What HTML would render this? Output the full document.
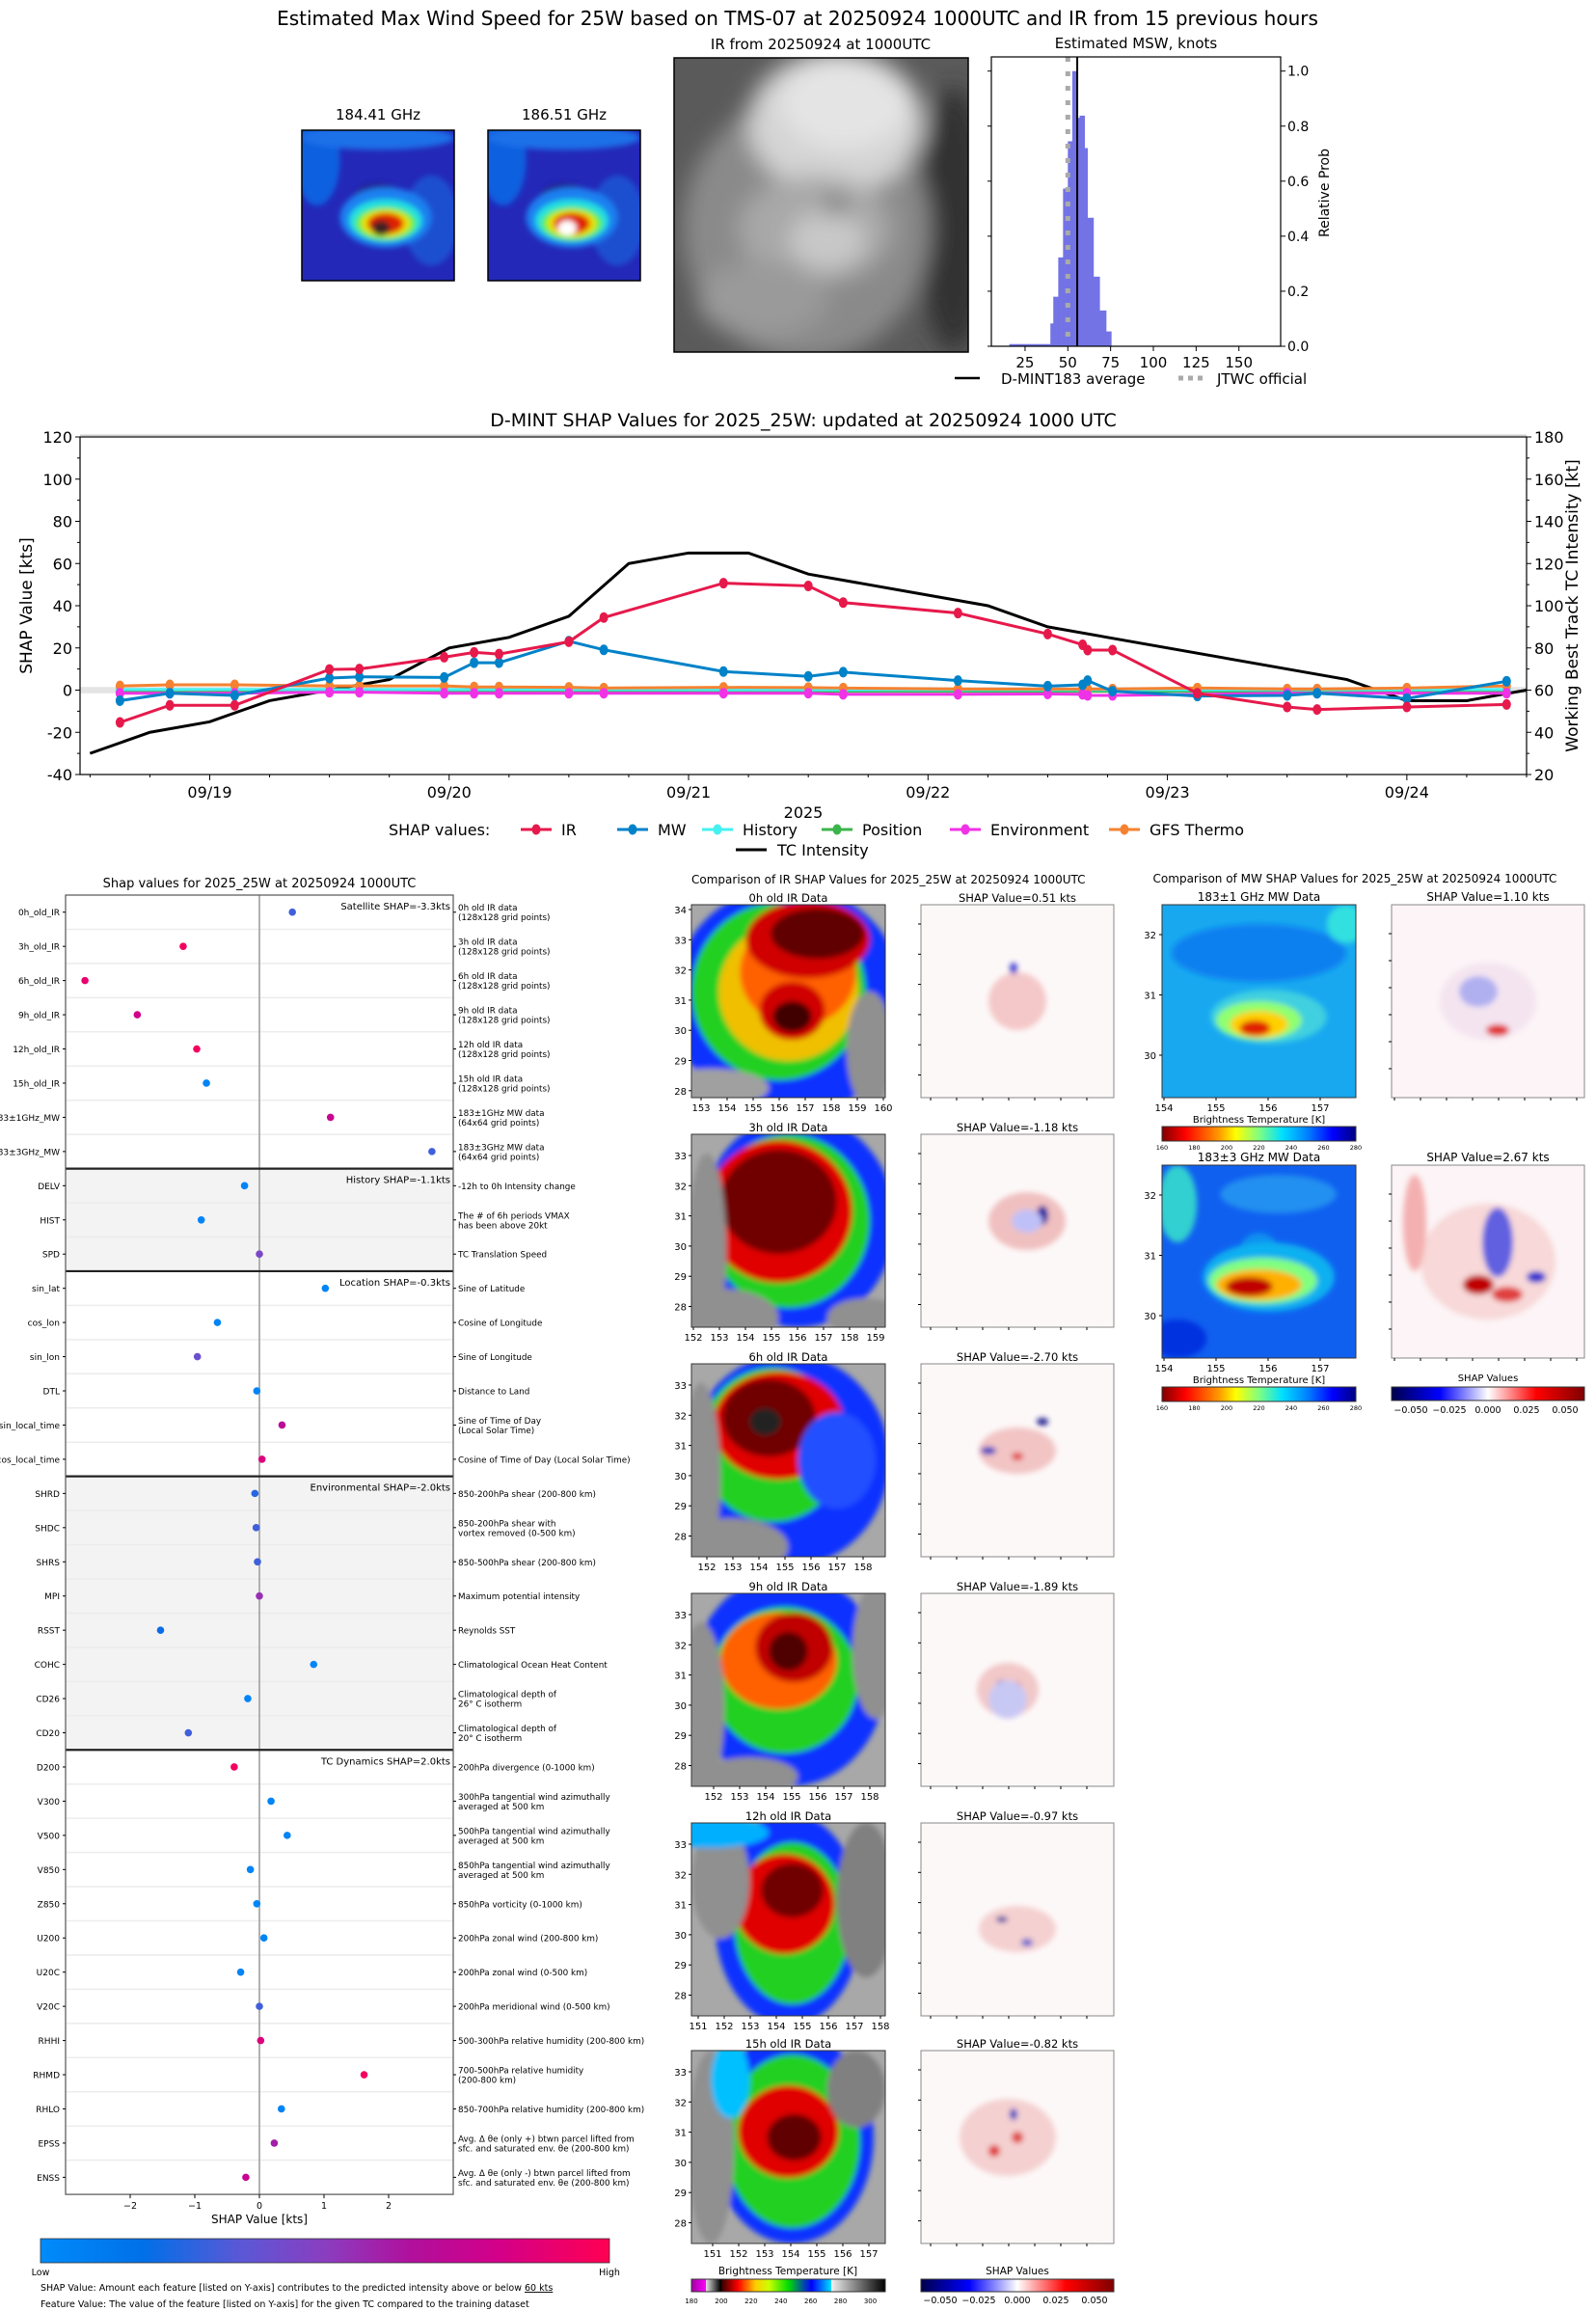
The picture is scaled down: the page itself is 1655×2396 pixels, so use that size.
<!DOCTYPE html>
<html><head><meta charset="utf-8"><title>D-MINT 25W</title>
<style>html,body{margin:0;padding:0;background:#fff}svg{display:block}text{font-family:"DejaVu Sans","Liberation Sans",sans-serif;fill:#000}</style>
</head><body>
<svg id="fig" xmlns="http://www.w3.org/2000/svg" width="1655" height="2396" viewBox="0 0 1655 2396">
<defs>
<filter id="blur3" x="-20%" y="-20%" width="140%" height="140%"><feGaussianBlur stdDeviation="3"/></filter>
<filter id="blur6" x="-20%" y="-20%" width="140%" height="140%"><feGaussianBlur stdDeviation="12"/></filter>
<linearGradient id="cbShap" x1="0" x2="1" y1="0" y2="0"><stop offset="0" stop-color="#008bfb"/><stop offset="0.18" stop-color="#0070e8"/><stop offset="0.35" stop-color="#5a58d6"/><stop offset="0.5" stop-color="#8a3ec0"/><stop offset="0.65" stop-color="#b0109c"/><stop offset="0.8" stop-color="#d2008a"/><stop offset="1" stop-color="#ff0052"/></linearGradient>
<linearGradient id="cbJet" x1="0" x2="1"><stop offset="0" stop-color="#800000"/><stop offset="0.12" stop-color="#ff0000"/><stop offset="0.3" stop-color="#ffa000"/><stop offset="0.38" stop-color="#ffff00"/><stop offset="0.5" stop-color="#80ff80"/><stop offset="0.62" stop-color="#00e0ff"/><stop offset="0.75" stop-color="#0080ff"/><stop offset="0.88" stop-color="#0000ff"/><stop offset="1" stop-color="#000080"/></linearGradient>
<linearGradient id="cbSeis" x1="0" x2="1"><stop offset="0" stop-color="#00004c"/><stop offset="0.25" stop-color="#0000ff"/><stop offset="0.5" stop-color="#ffffff"/><stop offset="0.75" stop-color="#ff0000"/><stop offset="1" stop-color="#800000"/></linearGradient>
<linearGradient id="cbIR" x1="0" x2="1"><stop offset="0" stop-color="#a000a0"/><stop offset="0.075" stop-color="#ff00ff"/><stop offset="0.076" stop-color="#e0e0e0"/><stop offset="0.15" stop-color="#000000"/><stop offset="0.16" stop-color="#400000"/><stop offset="0.24" stop-color="#ff0000"/><stop offset="0.33" stop-color="#ffcc00"/><stop offset="0.4" stop-color="#ccff00"/><stop offset="0.5" stop-color="#00dd00"/><stop offset="0.62" stop-color="#0000ff"/><stop offset="0.72" stop-color="#00ddff"/><stop offset="0.721" stop-color="#f0f0f0"/><stop offset="1" stop-color="#000000"/></linearGradient>
</defs>
</svg>
<script>
// ---------- DATA ----------
const histLeft  = [15.8, 39.8, 41.5, 44.4, 47.2, 50.0, 52.6, 55.4, 56.9, 59.8, 61.5, 65.0, 68.6, 72.4];
const histRight = [39.8, 41.5, 44.4, 47.2, 50.0, 52.6, 55.4, 56.9, 59.8, 61.5, 65.0, 68.6, 72.4, 75.4];
const histProb  = [0.008, 0.083, 0.18, 0.323, 0.573, 0.745, 1.0, 0.83, 0.838, 0.72, 0.467, 0.253, 0.13, 0.054];
const histXTicks = [25, 50, 75, 100, 125, 150];
const histYTicks = [0.0, 0.2, 0.4, 0.6, 0.8, 1.0];
const dmintAvg = 55.5;
const jtwcOfficial = 50;

const shapHours = [15, 20, 26.5, 36, 39, 47.5, 50.5, 53, 60, 63.5, 75.5, 84, 87.5, 99, 108, 111.5, 112, 114.5, 123, 132, 135, 144, 154];
const irShap  = [-15.3, -7.2, -7.2, 9.8, 10, 15.6, 17.9, 17.1, 22.9, 34.4, 50.7, 49.4, 41.5, 36.5, 26.6, 21.5, 19, 19, -1.5, -8, -9.2, -8, -6.8];
const mwShap  = [-5, -1.5, -2.5, 5.7, 6.3, 6, 13, 13, 23.2, 19.1, 8.8, 6.5, 8.5, 4.5, 1.9, 2.5, 4.5, -0.5, -2.8, -2.5, -1.5, -4, 4.2];
const histShap = [0.3, 0.3, 0.3, 0.3, 0.3, 0.3, 0.3, 0.3, 0.3, 0.3, 0.2, 0.2, 0.2, 0.2, 0.2, 0.2, 0.2, 0.2, 0.2, 0.2, 0.2, 0.2, 0.3];
const posShap  = [-0.5, -0.5, -0.5, -0.5, -0.5, -0.5, -0.5, -0.5, -0.5, -0.5, -0.5, -0.5, -0.5, -0.5, -0.5, -0.5, -0.5, -0.5, -0.5, -0.5, -0.5, -0.5, -0.5];
const envShap  = [-1.5, -1.5, -1.5, -1, -1, -1.5, -1.5, -1.5, -1.5, -1.5, -1.5, -1.5, -2, -2, -1.8, -2, -2.5, -2.5, -2, -1.5, -1.5, -1.5, -1.5];
const gfsShap  = [2, 2.5, 2.5, 2, 2, 2, 1.5, 1.5, 1.3, 1, 1.3, 1.2, 1, 0.5, 0.5, 0.5, 0.5, 0.5, 1, 0.5, 0.5, 1, 2];
const tcHours = [12, 18, 24, 30, 36, 42, 48, 54, 60, 66, 72, 78, 84, 102, 108, 138, 144, 150, 156];
const tcInt   = [30, 40, 45, 55, 60, 65, 80, 85, 95, 120, 125, 125, 115, 100, 90, 65, 55, 55, 60];
const dayLabels = ['09/19', '09/20', '09/21', '09/22', '09/23', '09/24'];
const dayHours = [24, 48, 72, 96, 120, 144];
const leftTicks = [-40, -20, 0, 20, 40, 60, 80, 100, 120];
const rightTicks = [20, 40, 60, 80, 100, 120, 140, 160, 180];

const featNames = ['0h_old_IR','3h_old_IR','6h_old_IR','9h_old_IR','12h_old_IR','15h_old_IR','183\u00b11GHz_MW','183\u00b13GHz_MW','DELV','HIST','SPD','sin_lat','cos_lon','sin_lon','DTL','sin_local_time','cos_local_time','SHRD','SHDC','SHRS','MPI','RSST','COHC','CD26','CD20','D200','V300','V500','V850','Z850','U200','U20C','V20C','RHHI','RHMD','RHLO','EPSS','ENSS'];
const featShap = [0.51,-1.18,-2.70,-1.89,-0.97,-0.82,1.10,2.67,-0.23,-0.9,0.0,1.02,-0.65,-0.96,-0.04,0.35,0.04,-0.07,-0.05,-0.03,0.0,-1.53,0.84,-0.18,-1.1,-0.39,0.18,0.43,-0.14,-0.04,0.07,-0.29,0.0,0.02,1.62,0.34,0.23,-0.21];
const featValue = [0.3,0.95,0.9,0.8,0.95,0.05,0.75,0.3,0.05,0.05,0.45,0.05,0.05,0.4,0.05,0.7,0.85,0.25,0.3,0.3,0.55,0.2,0.05,0.05,0.3,0.95,0.05,0.05,0.05,0.05,0.05,0.05,0.3,0.85,0.95,0.05,0.6,0.75];
const featDesc = ['0h old IR data|(128x128 grid points)','3h old IR data|(128x128 grid points)','6h old IR data|(128x128 grid points)','9h old IR data|(128x128 grid points)','12h old IR data|(128x128 grid points)','15h old IR data|(128x128 grid points)','183\u00b11GHz MW data|(64x64 grid points)','183\u00b13GHz MW data|(64x64 grid points)','-12h to 0h Intensity change','The # of 6h periods VMAX|has been above 20kt','TC Translation Speed','Sine of Latitude','Cosine of Longitude','Sine of Longitude','Distance to Land','Sine of Time of Day|(Local Solar Time)','Cosine of Time of Day (Local Solar Time)','850-200hPa shear (200-800 km)','850-200hPa shear with|vortex removed (0-500 km)','850-500hPa shear (200-800 km)','Maximum potential intensity','Reynolds SST','Climatological Ocean Heat Content','Climatological depth of|26\u00b0 C isotherm','Climatological depth of|20\u00b0 C isotherm','200hPa divergence (0-1000 km)','300hPa tangential wind azimuthally|averaged at 500 km','500hPa tangential wind azimuthally|averaged at 500 km','850hPa tangential wind azimuthally|averaged at 500 km','850hPa vorticity (0-1000 km)','200hPa zonal wind (200-800 km)','200hPa zonal wind (0-500 km)','200hPa meridional wind (0-500 km)','500-300hPa relative humidity (200-800 km)','700-500hPa relative humidity|(200-800 km)','850-700hPa relative humidity (200-800 km)','Avg. \u0394 \u03b8e (only +) btwn parcel lifted from|sfc. and saturated env. \u03b8e (200-800 km)','Avg. \u0394 \u03b8e (only -) btwn parcel lifted from|sfc. and saturated env. \u03b8e (200-800 km)'];
const groupStart = [0, 8, 11, 17, 25];
const groupEnd = [8, 11, 17, 25, 38];
const groupLabel = ['Satellite SHAP=-3.3kts','History SHAP=-1.1kts','Location SHAP=-0.3kts','Environmental SHAP=-2.0kts','TC Dynamics SHAP=2.0kts'];
const shapXTicks = [-2, -1, 0, 1, 2];

const irTitles = ['0h old IR Data','3h old IR Data','6h old IR Data','9h old IR Data','12h old IR Data','15h old IR Data'];
const irShapVals = ['0.51','-1.18','-2.70','-1.89','-0.97','-0.82'];
const irLatTop = [34,33,33,33,33,33];
const irLonStart = [153,152,152,152,151,151];
const irLonEnd = [160,159,158,158,158,157];
const mwTitles = ['183\u00b11 GHz MW Data','183\u00b13 GHz MW Data'];
const mwShapVals = ['1.10','2.67'];

// ---------- HELPERS ----------
const NS = 'http://www.w3.org/2000/svg';
const svg = document.getElementById('fig');
function mk(tag, parent) { const e = document.createElementNS(NS, tag); (parent || svg).appendChild(e); return e; }
function setA(e, o) { for (const k in o) e.setAttribute(k, o[k]); return e; }
function txt(s, x, y, size, anchor, parent) {
  const t = mk('text', parent);
  setA(t, {x: x, y: y, 'font-size': size, 'text-anchor': anchor || 'start'});
  t.textContent = s; return t;
}
function line(x1, y1, x2, y2, stroke, w, parent) {
  const l = mk('line', parent); setA(l, {x1: x1, y1: y1, x2: x2, y2: y2, stroke: stroke, 'stroke-width': w}); return l;
}
function rect(x, y, w, h, fill, parent) { const r = mk('rect', parent); setA(r, {x: x, y: y, width: w, height: h, fill: fill}); return r; }
function blobs(parent, x, y, w, h, layers, filt) {
  const g = mk('g', parent); g.setAttribute('filter', 'url(#' + filt + ')');
  layers.forEach(L => { const e = mk('ellipse', g); setA(e, {cx: x + L[0] * w, cy: y + L[1] * h, rx: L[2] * w, ry: L[3] * h, fill: L[4]}); });
  return g;
}
function clipRect(id, x, y, w, h) {
  const d = svg.querySelector('defs'); const c = mk('clipPath', d); c.setAttribute('id', id);
  const r = mk('rect', c); setA(r, {x: x, y: y, width: w, height: h});
}
function frame(x, y, w, h, parent, col, sw) { const r = mk('rect', parent); setA(r, {x: x, y: y, width: w, height: h, fill: 'none', stroke: col || '#000', 'stroke-width': sw || 1.2}); return r; }

// ---------- MAIN TITLE ----------
let t;
t = txt('Estimated Max Wind Speed for 25W based on TMS-07 at 20250924 1000UTC and IR from 15 previous hours', 827, 26, 20, 'middle');



// ---------- TOP MW IMAGES ----------
function mwSmall(x, label, white, name) {
  const g = mk('g');  
  const id = 'c' + name; clipRect(id, x, 135, 158, 156);
  const cg = mk('g', g); cg.setAttribute('clip-path', 'url(#' + id + ')');
  rect(x, 135, 158, 156, '#2428b8', cg);
  blobs(cg, x, 135, 158, 156, [[0.1,0.2,0.15,0.3,'#1060e0'],[0.5,0.05,0.5,0.08,'#1a70e8'],[0.85,0.6,0.18,0.3,'#1a50d0'],[0.5,0.45,0.16,0.1,'#202090'],[0.55,0.58,0.3,0.2,'#1e80f0'],[0.55,0.6,0.24,0.14,'#20e0e0'],[0.55,0.62,0.2,0.11,'#60f040'],[0.55,0.62,0.16,0.09,'#f0e000'],[0.55,0.62,0.12,0.07,'#e02000'],[0.52,0.65,0.06,0.05, white ? '#ffffff' : '#402020']], 'blur3');
  frame(x, 135, 158, 156, g, '#000', 1.5);
  const tl = txt(label, x + 79, 124, 15, 'middle', g);
  
  
}
mwSmall(313, '184.41 GHz', false, 'mw-184-image');
mwSmall(506, '186.51 GHz', true, 'mw-186-image');

// ---------- TOP IR IMAGE ----------
(function () {
  const g = mk('g');  
  clipRect('cir', 699, 60, 305, 305);
  const cg = mk('g', g); cg.setAttribute('clip-path', 'url(#cir)');
  rect(699, 60, 305, 305, '#5a5a5a', cg);
  blobs(cg, 699, 60, 305, 305, [[0.95,0.55,0.12,0.45,'#303030'],[0.45,0.58,0.42,0.45,'#8a8a8a'],[0.55,0.22,0.3,0.24,'#d4d4d4'],[0.58,0.15,0.22,0.16,'#e4e4e4'],[0.48,0.58,0.26,0.18,'#a8a8a8'],[0.52,0.62,0.13,0.1,'#c8c8c8'],[0.55,0.5,0.04,0.03,'#606060'],[0.3,0.82,0.22,0.13,'#9a9a9a']], 'blur6');
  frame(699, 60, 305, 305, g, '#000', 1.5);
  const tl = txt('IR from 20250924 at 1000UTC', 851, 51, 15, 'middle', g);
  
  
})();

// ---------- HISTOGRAM ----------
(function () {
  const X0 = 1028, X1 = 1328, Y0 = 59, Y1 = 359, kMin = 5.3, kMax = 174.4, pMax = 1.0515;
  const hx = k => X0 + (k - kMin) / (kMax - kMin) * (X1 - X0);
  const hy = p => Y1 - p / pMax * (Y1 - Y0);
  const g = mk('g');  
  for (let i = 0; i < histProb.length; i++) {
    const b = rect(hx(histLeft[i]), hy(histProb[i]), hx(histRight[i]) - hx(histLeft[i]) + 0.3, Y1 - hy(histProb[i]), '#7373e6', g);
    
    
  }
  const j = line(hx(jtwcOfficial), Y0, hx(jtwcOfficial), Y1, '#aaaaaa', 5, g); j.setAttribute('stroke-dasharray', '5,10');
  
  
  const a = line(hx(dmintAvg), Y0, hx(dmintAvg), Y1, '#000', 2, g);
  
  
  frame(X0, Y0, X1 - X0, Y1 - Y0, g, '#000', 1.2);
  histXTicks.forEach(v => { line(hx(v), Y1, hx(v), Y1 + 5, '#000', 1, g); const l = txt(String(v), hx(v), Y1 + 22, 15, 'middle', g);  });
  histYTicks.forEach(v => { line(X1, hy(v), X1 + 5, hy(v), '#000', 1, g); line(X0, hy(v), X0 - 4, hy(v), '#000', 1, g); const l = txt(v.toFixed(1), X1 + 7, hy(v) + 5, 14, 'start', g);  });
  const yl = txt('Relative Prob', 0, 0, 14, 'middle', g); yl.setAttribute('transform', 'translate(1378,200) rotate(-90)');
  
  
  const tt = txt('Estimated MSW, knots', 1178, 50, 15, 'middle', g);
  
  
  const lg = mk('g');  
  line(990, 392, 1016, 392, '#000', 2.5, lg);
  txt('D-MINT183 average', 1038, 398, 15, 'start', lg);
  const d = line(1222, 392, 1252, 392, '#aaaaaa', 5, lg); d.setAttribute('stroke-dasharray', '5,5');
  txt('JTWC official', 1262, 398, 15, 'start', lg);
})();

// ---------- TIMELINE ----------
(function () {
  const X0 = 83, X1 = 1583, Y0 = 453, Y1 = 803, H0 = 11, H1 = 156;
  const tx = h => X0 + (h - H0) / (H1 - H0) * (X1 - X0);
  const ty = v => Y0 + (120 - v) / 160 * (Y1 - Y0);
  const tyR = v => Y0 + (180 - v) / 160 * (Y1 - Y0);
  const g = mk('g');  
  clipRect('ctl', X0, Y0, X1 - X0, Y1 - Y0);
  const band = rect(X0, ty(1.5), X1 - X0, ty(-1.5) - ty(1.5), '#e4e4e4', g);
  
  
  const pg = mk('g', g); pg.setAttribute('clip-path', 'url(#ctl)');
  const tc = mk('polyline', pg);
  setA(tc, {points: tcHours.map((h, i) => tx(h) + ',' + tyR(tcInt[i])).join(' '), fill: 'none', stroke: '#000', 'stroke-width': 3});
  
  
  const series = [[posShap, '#3cb44b', 'position-series'], [histShap, '#46f0f0', 'history-series'], [gfsShap, '#f58231', 'gfs-thermo-series'], [envShap, '#f032e6', 'environment-series'], [mwShap, '#0082c8', 'mw-series'], [irShap, '#e6194b', 'ir-series']];
  series.forEach(S => {
    const sg = mk('g', pg);  
    const pl = mk('polyline', sg);
    setA(pl, {points: shapHours.map((h, i) => tx(h) + ',' + ty(S[0][i])).join(' '), fill: 'none', stroke: S[1], 'stroke-width': 3});
    shapHours.forEach((h, i) => {
      const c = mk('ellipse', sg); setA(c, {cx: tx(h), cy: ty(S[0][i]), rx: 4.5, ry: 5.5, fill: S[1]});
      
      
    });
  });
  frame(X0, Y0, X1 - X0, Y1 - Y0, g, '#000', 1.2);
  line(X0, Y0 - 1.5, X1, Y0 - 1.5, '#cccccc', 2, g);
  leftTicks.forEach(v => { line(X0 - 5, ty(v), X0, ty(v), '#000', 1, g); const l = txt(String(v), X0 - 8, ty(v) + 6, 16, 'end', g);  });
  for (let v = -30; v < 120; v += 20) line(X0 - 3, ty(v), X0, ty(v), '#000', 1, g);
  rightTicks.forEach(v => { line(X1, tyR(v), X1 + 5, tyR(v), '#000', 1, g); const l = txt(String(v), X1 + 8, tyR(v) + 6, 16, 'start', g);  });
  for (let v = 30; v < 180; v += 20) line(X1, tyR(v), X1 + 3, tyR(v), '#000', 1, g);
  for (let h = 12; h <= H1; h += 6) line(tx(h), Y1, tx(h), Y1 + (h % 24 === 0 ? 6 : 3), '#000', 1, g);
  dayHours.forEach((h, i) => { const l = txt(dayLabels[i], tx(h), 827, 16, 'middle', g);  });
  const yr = txt('2025', 833, 848, 16, 'middle', g); 
  const yl = txt('SHAP Value [kts]', 0, 0, 17, 'middle', g); yl.setAttribute('transform', 'translate(33,628) rotate(-90)');
  
  
  const yr2 = txt('Working Best Track TC Intensity [kt]', 0, 0, 17, 'middle', g); yr2.setAttribute('transform', 'translate(1636,628) rotate(-90)');
  
  
  const tt = txt('D-MINT SHAP Values for 2025_25W: updated at 20250924 1000 UTC', 833, 442, 19, 'middle', g);
  
  
  const lg = mk('g');  
  txt('SHAP values:', 403, 866, 16, 'start', lg);
  const leg = [['IR', '#e6194b', 540], ['MW', '#0082c8', 640], ['History', '#46f0f0', 728], ['Position', '#3cb44b', 852], ['Environment', '#f032e6', 985], ['GFS Thermo', '#f58231', 1150]];
  leg.forEach(L => {
    const e = mk('g', lg);  
    line(L[2], 860, L[2] + 32, 860, L[1], 3, e);
    const c = mk('ellipse', e); setA(c, {cx: L[2] + 16, cy: 860, rx: 4.5, ry: 5.5, fill: L[1]});
    txt(L[0], L[2] + 42, 866, 16, 'start', e);
  });
  line(763, 881, 795, 881, '#000', 3, lg);
  txt('TC Intensity', 806, 887, 16, 'start', lg);
})();

// ---------- SHAP FEATURE PLOT ----------
function shapCmap(v) {
  const st = [[0,[0,139,251]],[0.18,[0,112,232]],[0.35,[90,88,214]],[0.5,[138,62,192]],[0.65,[176,16,156]],[0.8,[210,0,138]],[1,[255,0,82]]];
  for (let i = 1; i < st.length; i++) if (v <= st[i][0]) {
    const f = (v - st[i-1][0]) / (st[i][0] - st[i-1][0]);
    const c = st[i-1][1].map((a, k) => Math.round(a + (st[i][1][k] - a) * f));
    return 'rgb(' + c.join(',') + ')';
  }
  return 'rgb(255,0,82)';
}
(function () {
  const X0 = 68, X1 = 470, Y0 = 928, RH = 35.45, N = featNames.length, Y1 = Y0 + N * RH;
  const sx = v => 269 + v * 67;
  const ry = i => Y0 + RH / 2 + i * RH;
  const g = mk('g');  
  [1, 3].forEach(k => rect(X0, Y0 + groupStart[k] * RH, X1 - X0, (groupEnd[k] - groupStart[k]) * RH, '#f3f3f3', g));
  for (let i = 1; i < N; i++) line(X0, Y0 + i * RH, X1, Y0 + i * RH, '#ececec', 1.5, g);
  line(sx(0), Y0, sx(0), Y1, '#999999', 1.5, g);
  for (let k = 1; k < groupStart.length; k++) { const s = line(X0, Y0 + groupStart[k] * RH, X1, Y0 + groupStart[k] * RH, '#222', 2.2, g);  }
  frame(X0, Y0, X1 - X0, Y1 - Y0, g, '#555', 1.2);
  groupLabel.forEach((s, k) => { const l = txt(s, X1 - 3, Y0 + groupStart[k] * RH + 15, 10, 'end', g);  });
  for (let i = 0; i < N; i++) {
    const d = mk('circle', g); setA(d, {cx: sx(featShap[i]), cy: ry(i), r: 3.8, fill: shapCmap(featValue[i])});
    
    
    const l = txt(featNames[i], X0 - 6, ry(i) + 3.5, 9, 'end', g);
    
    line(X0 - 3, ry(i), X0, ry(i), '#000', 1, g);
    line(X1, ry(i), X1 + 3, ry(i), '#000', 1, g);
    const parts = featDesc[i].split('|');
    parts.forEach((p, k) => { const dl = txt(p, X1 + 5, ry(i) + 3.5 + (k - (parts.length - 1) / 2) * 10, 8.8, 'start', g);  });
  }
  shapXTicks.forEach(v => { line(sx(v), Y1, sx(v), Y1 + 4, '#000', 1, g); const l = txt(v < 0 ? '\u2212' + (-v) : String(v), sx(v), Y1 + 15, 9.5, 'middle', g);  });
  const xl = txt('SHAP Value [kts]', 269, Y1 + 30, 12, 'middle', g); 
  const tt = txt('Shap values for 2025_25W at 20250924 1000UTC', 269, 920, 13, 'middle', g);
  
  
  const cb = rect(42, 2321, 590, 25, 'url(#cbShap)'); cb.setAttribute('stroke', '#333'); cb.setAttribute('stroke-width', '0.8');
  
  
  txt('Low', 42, 2359, 9.5, 'middle');
  txt('High', 632, 2359, 9.5, 'middle');
  const n1 = txt('SHAP Value: Amount each feature [listed on Y-axis] contributes to the predicted intensity above or below ', 42, 2375, 9.5, 'start');
  const u = mk('tspan', n1); u.setAttribute('text-decoration', 'underline'); u.textContent = '60 kts';
  
  const n2 = txt('Feature Value: The value of the feature [listed on Y-axis] for the given TC compared to the training dataset', 42, 2392, 9.5, 'start');
  
})();

// ---------- IR PANELS ----------
const irLayers = [
  [[0.5,0.5,0.6,0.6,'#1030ff'],[0.45,0.45,0.45,0.46,'#20d020'],[0.5,0.45,0.36,0.36,'#f0c000'],[0.55,0.35,0.3,0.28,'#ff6000'],[0.6,0.18,0.32,0.2,'#d00000'],[0.65,0.15,0.24,0.13,'#600000'],[0.52,0.55,0.17,0.15,'#d00000'],[0.52,0.58,0.1,0.08,'#400000'],[0.92,0.75,0.12,0.3,'#909090'],[0.1,0.95,0.3,0.1,'#a0a0a0']],
  [[0.55,0.45,0.5,0.55,'#1030ff'],[0.5,0.45,0.42,0.45,'#20d020'],[0.45,0.4,0.38,0.37,'#e00000'],[0.45,0.35,0.3,0.27,'#700000'],[0.08,0.6,0.1,0.5,'#909090'],[0.15,0.95,0.3,0.15,'#909090'],[0.9,0.95,0.2,0.1,'#909090']],
  [[0.5,0.5,0.52,0.55,'#1030ff'],[0.42,0.42,0.38,0.4,'#20d020'],[0.45,0.32,0.34,0.28,'#e00000'],[0.4,0.28,0.24,0.2,'#700000'],[0.38,0.3,0.08,0.07,'#202020'],[0.05,0.6,0.1,0.5,'#909090'],[0.2,0.95,0.3,0.15,'#909090'],[0.75,0.5,0.2,0.25,'#2050ff']],
  [[0.5,0.45,0.5,0.55,'#1030ff'],[0.48,0.45,0.38,0.38,'#20d020'],[0.45,0.35,0.3,0.25,'#ff6000'],[0.53,0.28,0.2,0.18,'#c00000'],[0.5,0.3,0.1,0.1,'#500000'],[0.05,0.6,0.12,0.45,'#909090'],[0.95,0.3,0.12,0.35,'#909090'],[0.3,0.95,0.25,0.1,'#909090']],
  [[0.5,0.5,0.38,0.55,'#1030ff'],[0.52,0.52,0.3,0.42,'#20d020'],[0.48,0.42,0.26,0.26,'#e00000'],[0.52,0.35,0.16,0.14,'#700000'],[0.15,0.3,0.15,0.3,'#909090'],[0.9,0.4,0.15,0.4,'#808080'],[0.1,0.05,0.3,0.08,'#00b0ff']],
  [[0.52,0.45,0.42,0.55,'#1030ff'],[0.52,0.47,0.35,0.45,'#20d020'],[0.5,0.42,0.26,0.24,'#e00000'],[0.53,0.45,0.14,0.12,'#600000'],[0.1,0.5,0.12,0.5,'#909090'],[0.2,0.15,0.1,0.2,'#00c0ff'],[0.85,0.2,0.15,0.2,'#808080']]
];
const shapSpots = [
  [[0.5,0.5,0.15,0.15,'#f4c8c8'],[0.48,0.33,0.02,0.03,'#4040d0']],
  [[0.55,0.45,0.2,0.15,'#f0c0c0'],[0.63,0.42,0.03,0.05,'#0000a0'],[0.55,0.45,0.08,0.06,'#c0c0f8']],
  [[0.5,0.45,0.2,0.12,'#f2c4c4'],[0.35,0.45,0.04,0.02,'#3030c0'],[0.63,0.3,0.03,0.02,'#202090'],[0.5,0.48,0.03,0.02,'#e04040']],
  [[0.45,0.5,0.16,0.14,'#f2c8c8'],[0.42,0.48,0.03,0.03,'#0000a0'],[0.5,0.48,0.02,0.02,'#e00000'],[0.45,0.55,0.1,0.1,'#c8c8f4']],
  [[0.5,0.55,0.2,0.12,'#f4d0d0'],[0.42,0.5,0.03,0.015,'#2020a0'],[0.55,0.62,0.03,0.02,'#6060d0']],
  [[0.45,0.45,0.25,0.2,'#f4d0d0'],[0.38,0.52,0.03,0.03,'#e03030'],[0.48,0.33,0.02,0.03,'#3030c0'],[0.5,0.45,0.03,0.03,'#e04040']]
];
const irTops = [938, 1176, 1414, 1652, 1890, 2126];
(function () {
  const tt = txt('Comparison of IR SHAP Values for 2025_25W at 20250924 1000UTC', 717, 916, 12, 'start');
  
  
  irTops.forEach((y, i) => {
    const X = 717, W = 201, H = 200;
    const g = mk('g');  
    const id = 'cirp' + i; clipRect(id, X, y, W, H);
    const cg = mk('g', g); cg.setAttribute('clip-path', 'url(#' + id + ')');
    rect(X, y, W, H, '#a8a8a8', cg);
    blobs(cg, X, y, W, H, irLayers[i], 'blur3');
    frame(X, y, W, H, g, '#333', 1);
    txt(irTitles[i], X + W / 2, y - 3, 11.5, 'middle', g);
    const top = irLatTop[i], off = i === 0 ? 5 : 22;
    for (let k = 0; k < 7; k++) { const la = top - k, yy = y + off + k * 31.3; if (yy > y + H) break; line(X - 3, yy, X, yy, '#000', 1, g); txt(String(la), X - 5, yy + 4, 10, 'end', g); }
    const lonOff = [10, 2, 16, 23, 7, 22][i];
    for (let lo = irLonStart[i]; lo <= irLonEnd[i]; lo++) { const xx = X + lonOff + (lo - irLonStart[i]) * 27; line(xx, y + H, xx, y + H + 3, '#000', 1, g); txt(String(lo), xx, y + H + 14, 10, 'middle', g); }
    const SX = 955;
    const sg = mk('g');  
    const id2 = 'cirs' + i; clipRect(id2, SX, y, 200, H);
    const scg = mk('g', sg); scg.setAttribute('clip-path', 'url(#' + id2 + ')');
    rect(SX, y, 200, H, '#fdf8f8', scg);
    blobs(scg, SX, y, 200, H, shapSpots[i], 'blur3');
    frame(SX, y, 200, H, sg, '#888', 1);
    txt('SHAP Value=' + irShapVals[i] + ' kts', SX + 100, y - 3, 11.5, 'middle', sg);
    for (let k = 0; k < 6; k++) line(SX - 3, y + 20 + k * 31.3, SX, y + 20 + k * 31.3, '#000', 1, sg);
    for (let k = 0; k < 7; k++) line(SX + 10 + k * 27, y + H, SX + 10 + k * 27, y + H + 3, '#000', 1, sg);
  });
  const c1 = rect(717, 2363, 201, 13, 'url(#cbIR)'); c1.setAttribute('stroke', '#333');
  
  
  txt('Brightness Temperature [K]', 817, 2358, 10.5, 'middle');
  const irCbTicks = [180, 200, 220, 240, 260, 280, 300];
  irCbTicks.forEach(v => txt(String(v), 717 + (v - 180) / 130 * 201, 2388, 7, 'middle'));
  const c2 = rect(955, 2363, 200, 13, 'url(#cbSeis)'); c2.setAttribute('stroke', '#333');
  
  
  txt('SHAP Values', 1055, 2358, 10.5, 'middle');
  const seisTicks = ['\u22120.050', '\u22120.025', '0.000', '0.025', '0.050'];
  seisTicks.forEach((s, k) => txt(s, 975 + k * 40, 2388, 9.5, 'middle'));
})();

// ---------- MW PANELS (right) ----------
(function () {
  const tt = txt('Comparison of MW SHAP Values for 2025_25W at 20250924 1000UTC', 1405, 915, 12, 'middle');
  
  
  const tops = [938, 1208];
  const bgs = ['#18a8f0', '#1060f0'];
  const lay = [
    [[0.5,0.25,0.45,0.15,'#1080f0'],[0.95,0.1,0.1,0.1,'#30e0e0'],[0.55,0.58,0.3,0.14,'#40d0e0'],[0.5,0.6,0.22,0.1,'#90ff70'],[0.5,0.62,0.15,0.07,'#ffd000'],[0.48,0.64,0.08,0.04,'#e02000']],
    [[0.08,0.2,0.1,0.2,'#30d0d0'],[0.6,0.15,0.3,0.1,'#2090f0'],[0.5,0.45,0.1,0.1,'#1090f0'],[0.55,0.58,0.34,0.18,'#10b0f0'],[0.52,0.6,0.28,0.12,'#80ff80'],[0.5,0.62,0.22,0.08,'#ffb000'],[0.45,0.63,0.12,0.05,'#c00000'],[0.08,0.9,0.15,0.1,'#0030e0']]
  ];
  const mwSpots = [
    [[0.5,0.5,0.25,0.2,'#f4e4f0'],[0.45,0.45,0.1,0.08,'#b0b0f0'],[0.55,0.65,0.06,0.03,'#e03030']],
    [[0.5,0.5,0.35,0.3,'#f8d8d8'],[0.12,0.3,0.06,0.25,'#f4b0b0'],[0.55,0.4,0.08,0.18,'#6060e0'],[0.45,0.62,0.08,0.05,'#c00000'],[0.6,0.67,0.08,0.04,'#e04040'],[0.75,0.58,0.05,0.03,'#3030d0']]
  ];
  tops.forEach((y, i) => {
    const X = 1205, W = 201, H = 200;
    const g = mk('g');  
    const id = 'cmw' + i; clipRect(id, X, y, W, H);
    const cg = mk('g', g); cg.setAttribute('clip-path', 'url(#' + id + ')');
    rect(X, y, W, H, bgs[i], cg);
    blobs(cg, X, y, W, H, lay[i], 'blur3');
    frame(X, y, W, H, g, '#333', 1);
    txt(mwTitles[i], X + W / 2, y - 4, 12, 'middle', g);
    [32, 31, 30].forEach((la, k) => { const yy = y + 31 + k * 62.5; line(X - 3, yy, X, yy, '#000', 1, g); txt(String(la), X - 6, yy + 4, 10, 'end', g); });
    [154, 155, 156, 157].forEach((lo, k) => { const xx = X + 2 + k * 54; line(xx, y + H, xx, y + H + 3, '#000', 1, g); txt(String(lo), xx, y + H + 14, 10, 'middle', g); });
    txt('Brightness Temperature [K]', X + W / 2, y + H + 26, 10, 'middle', g);
    const cb = rect(X, y + H + 30, W, 15, 'url(#cbJet)', g); cb.setAttribute('stroke', '#333');
    
    
    [160, 180, 200, 220, 240, 260, 280].forEach((v, k) => txt(String(v), X + k * W / 6, y + H + 54, 6.5, 'middle', g));
    const SX = 1443;
    const sg = mk('g');  
    const id2 = 'cmws' + i; clipRect(id2, SX, y, 200, H);
    const scg = mk('g', sg); scg.setAttribute('clip-path', 'url(#' + id2 + ')');
    rect(SX, y, 200, H, '#fcf4f6', scg);
    blobs(scg, SX, y, 200, H, mwSpots[i], 'blur3');
    frame(SX, y, 200, H, sg, '#888', 1);
    txt('SHAP Value=' + mwShapVals[i] + ' kts', SX + 100, y - 4, 12, 'middle', sg);
    for (let k = 0; k < 6; k++) line(SX - 3, y + 30 + k * 28, SX, y + 30 + k * 28, '#000', 1, sg);
    for (let k = 0; k < 8; k++) line(SX + 3 + k * 27, y + H, SX + 3 + k * 27, y + H + 3, '#000', 1, sg);
  });
  const c = rect(1443, 1438, 200, 14, 'url(#cbSeis)'); c.setAttribute('stroke', '#333');
  
  
  txt('SHAP Values', 1543, 1432, 10, 'middle');
  ['\u22120.050', '\u22120.025', '0.000', '0.025', '0.050'].forEach((s, k) => txt(s, 1463 + k * 40, 1465, 9.5, 'middle'));
})();
</script>
</body></html>
